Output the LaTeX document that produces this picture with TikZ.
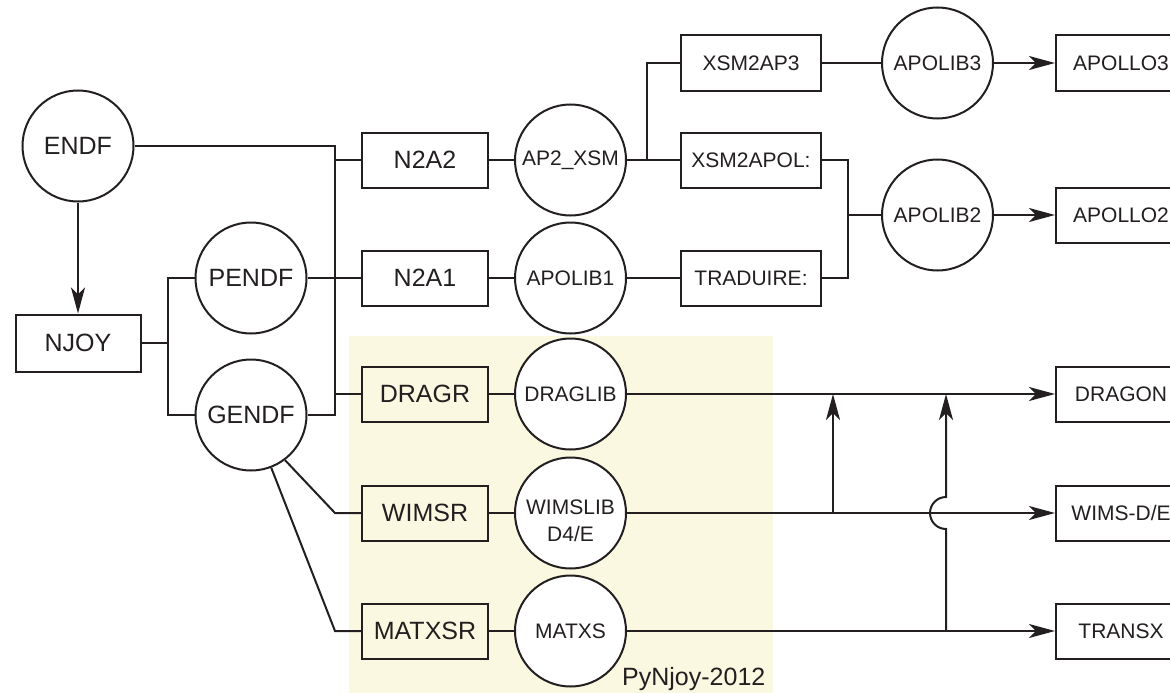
\documentclass[tikz,border=0pt]{standalone}
\usepackage{fontspec}
\setmainfont{Liberation Sans}
\usetikzlibrary{arrows.meta}
\definecolor{ink}{RGB}{35,31,32}
\definecolor{pale}{RGB}{250,248,224}
\begin{document}
\begin{tikzpicture}[x=1pt,y=-1pt,
  every node/.style={font=\fontsize{21}{27}\selectfont, text=ink},
  big/.style={font=\fontsize{25}{30}\selectfont},
  lib/.style={draw=ink, line width=2pt, circle, minimum size=111pt, inner sep=0pt, fill=white},
  prog/.style={draw=ink, line width=2pt, rectangle, minimum height=55pt, inner sep=0pt},
  widebox/.style={minimum width=126pt},
  midbox/.style={minimum width=140pt},
  codebox/.style={minimum width=130pt, fill=white},
  wire/.style={draw=ink, line width=2pt},
  arr/.style={wire, -{Stealth[length=26pt,width=14pt,inset=7pt]}}]
\useasboundingbox (0,0) rectangle (1170,693);
\fill[pale] (349,336) rectangle (773,693);

% left part
\node[lib,big] (endf) at (78,146) {ENDF};
\node[prog,big,minimum width=125pt,minimum height=57pt] (njoy) at (78,343) {NJOY};
\node[lib,big] (pendf) at (251,278) {PENDF};
\node[lib,big] (gendf) at (251,415) {GENDF};

% programs
\node[prog,big,widebox] (n2a2) at (425,160) {N2A2};
\node[prog,big,widebox] (n2a1) at (425,278) {N2A1};
\node[prog,big,widebox] (dragr) at (425,394) {DRAGR};
\node[prog,big,widebox] (wimsr) at (425,513) {WIMSR};
\node[prog,big,widebox] (matxsr) at (425,631) {MATXSR};

% libraries
\node[lib] (ap2xsm) at (570.5,160) {AP2\_XSM};
\node[lib] (apolib1) at (570.5,278) {APOLIB1};
\node[lib] (draglib) at (570.5,394) {DRAGLIB};
\node[lib] (wimslib) at (570.5,513) {};
\node[align=center, inner sep=0pt] (wimstxt) at (570.5,521) {WIMSLIB\\D4/E};
\node[lib] (matxs) at (570.5,631) {MATXS};

% APOLLO branch
\node[prog,midbox] (xsm2ap3) at (751,63) {XSM2AP3};
\node[prog,midbox] (xsm2apol) at (751,160) {XSM2APOL:};
\node[prog,midbox] (traduire) at (751,278) {TRADUIRE:};
\node[lib] (apolib3) at (937.5,63) {APOLIB3};
\node[lib] (apolib2) at (937.5,215) {APOLIB2};

% codes
\node[prog,codebox] (apollo3) at (1121,63) {APOLLO3};
\node[prog,codebox] (apollo2) at (1121,215) {APOLLO2};
\node[prog,codebox] (dragon) at (1121,394) {DRAGON};
\node[prog,codebox] (wimsde) at (1121,513) {WIMS-D/E};
\node[prog,codebox] (transx) at (1121,631) {TRANSX};

\node[big, anchor=base west, inner sep=0pt] (pynjoy) at (622,685) {PyNjoy-2012};

% junction coordinates
\coordinate (busT) at (335,146);
\coordinate (busB) at (335,415);
\coordinate (nj) at (168,343);
\coordinate (sp) at (647,160);
\coordinate (jn) at (848,215);
\coordinate (v1b) at (833,513);
\coordinate (v1t) at (833,394);
\coordinate (v2b) at (946,631);
\coordinate (v2j) at (946,529);
\coordinate (v2t) at (946,394);

% connectors
\draw[arr] (endf.south) -- (njoy.north);
\draw[wire] (njoy.east) -- (nj);
\draw[wire] (pendf.west) -| (nj) |- (gendf.west);
\draw[wire] (endf.east) -- (busT) -- (busB) -- (gendf.east);
\draw[wire] (n2a2.west -| busT) -- (n2a2.west);
\draw[wire] (dragr.west -| busT) -- (dragr.west);
\draw[wire] (pendf.east) -- (n2a1.west);
\draw[wire] (gendf.-53) -- (wimsr.west -| busT) -- (wimsr.west);
\draw[wire] (gendf.-69) -- (matxsr.west -| busT) -- (matxsr.west);

\draw[wire] (n2a2.east) -- (ap2xsm.west);
\draw[wire] (n2a1.east) -- (apolib1.west);
\draw[wire] (dragr.east) -- (draglib.west);
\draw[wire] (wimsr.east) -- (wimslib.west);
\draw[wire] (matxsr.east) -- (matxs.west);

\draw[wire] (ap2xsm.east) -- (xsm2apol.west);
\draw[wire] (sp) |- (xsm2ap3.west);
\draw[wire] (apolib1.east) -- (traduire.west);
\draw[wire] (xsm2ap3.east) -- (apolib3.west);
\draw[wire] (xsm2apol.east) -| (jn);
\draw[wire] (traduire.east) -| (jn);
\draw[wire] (jn) -- (apolib2.west);
\draw[arr] (apolib3.east) -- (apollo3.west);
\draw[arr] (apolib2.east) -- (apollo2.west);

\draw[arr] (draglib.east) -- (dragon.west);
\draw[arr] (wimslib.east) -- (wimsde.west);
\draw[arr] (matxs.east) -- (transx.west);
\draw[arr] (v1b) -- (v1t);
\draw[arr] (v2b) -- (v2j) arc[start angle=90, end angle=270, radius=16] -- (v2t);
\end{tikzpicture}
\end{document}
